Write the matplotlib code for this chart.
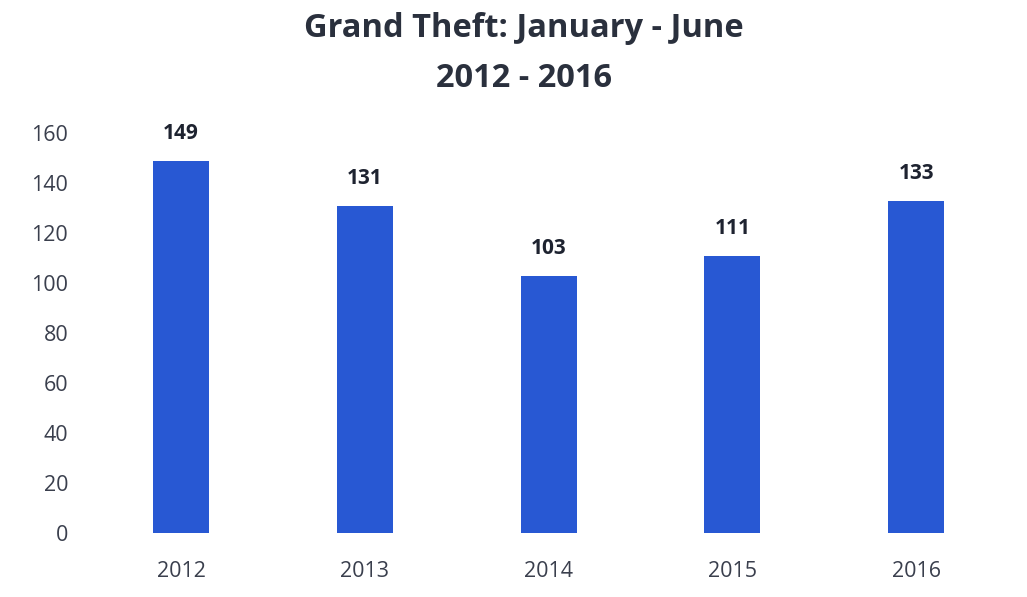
import matplotlib
matplotlib.use('Agg')
import matplotlib.pyplot as plt

years = ['2012', '2013', '2014', '2015', '2016']
counts = [149, 131, 103, 111, 133]
yticks = [0, 20, 40, 60, 80, 100, 120, 140, 160]

plt.rcParams['font.family'] = ['Open Sans', 'DejaVu Sans']

fig = plt.figure(figsize=(10.27, 5.97), dpi=100)
ax = fig.add_axes([0.0867, 0.1072, 0.895, 0.670])

x = range(len(years))
bars = ax.bar(x, counts, width=0.305, color='#2858d3')

for xi, v in zip(x, counts):
    ax.text(xi, v + 6.5, str(v), ha='center', va='bottom', fontsize=15,
            fontweight='bold', color='#1e2330')

ax.set_xlim(-0.5, 4.5)
ax.set_ylim(0, 160)
ax.set_yticks(yticks)
ax.set_xticks(list(x))
ax.set_xticklabels(years)
ax.tick_params(axis='both', length=0, labelsize=15.5, labelcolor='#3a3f4d')
ax.tick_params(axis='y', pad=15)
ax.tick_params(axis='x', pad=20)
for s in ax.spines.values():
    s.set_visible(False)

fig.text(0.51, 0.98, 'Grand Theft: January - June\n2012 - 2016', ha='center', va='top',
         fontsize=23.5, fontweight='bold', color='#2a303d', linespacing=1.7)

fig.savefig('out.png', dpi=100)
